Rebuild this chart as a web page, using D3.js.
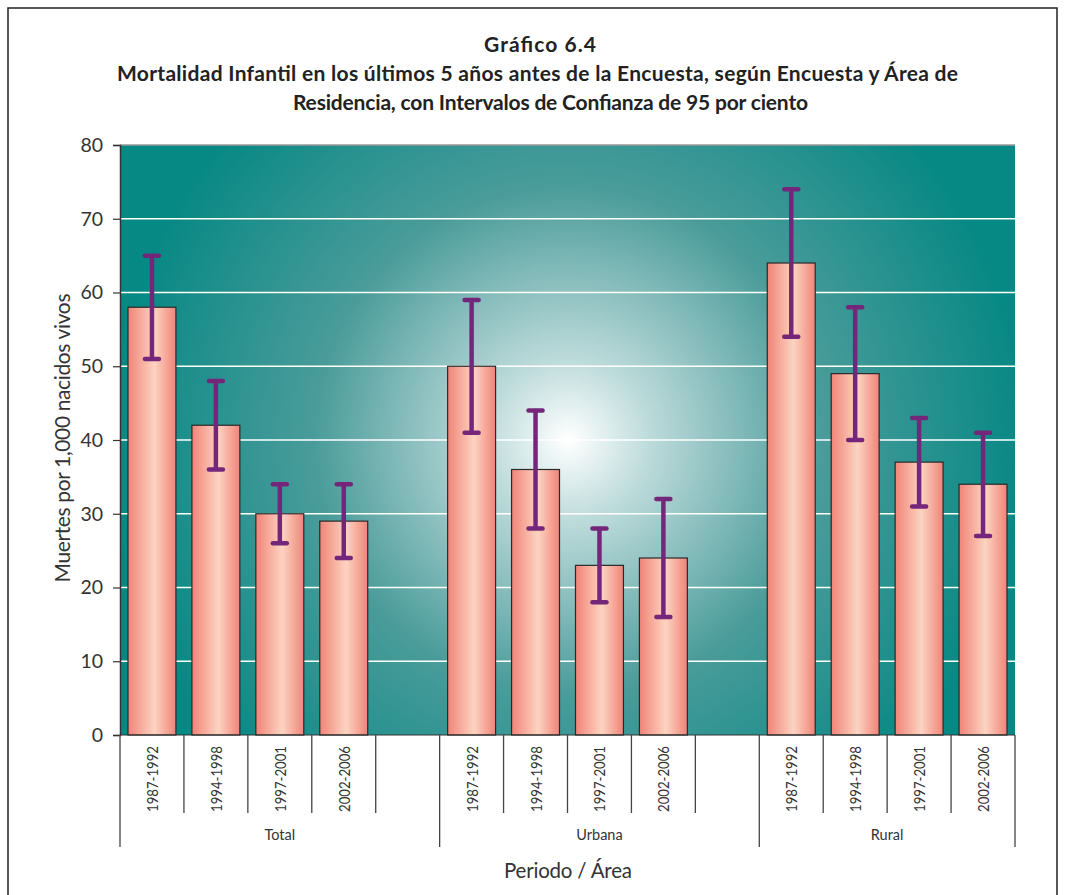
<!DOCTYPE html>
<html><head><meta charset="utf-8">
<script src="https://cdn.jsdelivr.net/npm/d3@7"></script>
<style>body{margin:0;background:#fff}svg{display:block}</style>
</head><body>
<script>
const groups = ["Total", "Urbana", "Rural"];
const periods = ["1987-1992", "1994-1998", "1997-2001", "2002-2006"];
const groupSlots = [5, 5, 4];
const valTotal = [58, 42, 30, 29];
const lowTotal = [51, 36, 26, 24];
const highTotal = [65, 48, 34, 34];
const valUrbana = [50, 36, 23, 24];
const lowUrbana = [41, 28, 18, 16];
const highUrbana = [59, 44, 28, 32];
const valRural = [64, 49, 37, 34];
const lowRural = [54, 40, 31, 27];
const highRural = [74, 58, 43, 41];
const yTicks = [0, 10, 20, 30, 40, 50, 60, 70, 80];

const vals = [valTotal, valUrbana, valRural], lows = [lowTotal, lowUrbana, lowRural], highs = [highTotal, highUrbana, highRural];
const slots = [];
const data = [];
groups.forEach((g, gi) => {
  for (let i = 0; i < groupSlots[gi]; i++) {
    const key = g + "|" + i;
    slots.push(key);
    if (i < periods.length) data.push({key, group: g, period: periods[i], v: vals[gi][i], lo: lows[gi][i], hi: highs[gi][i]});
  }
});

const W = 1065, H = 895;
const m = {l: 120, t: 145, r: 1015, b: 735};
const tf = "Lato, 'Open Sans', sans-serif";
const svg = d3.select("body").append("svg").attr("width", W).attr("height", H);
const defs = svg.append("defs");
const rg = defs.append("radialGradient").attr("id", "bg").attr("gradientUnits", "userSpaceOnUse")
  .attr("cx", 568).attr("cy", 440).attr("r", 460);
rg.append("stop").attr("offset", "0").attr("stop-color", "#ffffff");
rg.append("stop").attr("offset", "0.18").attr("stop-color", "#bcdada");
rg.append("stop").attr("offset", "0.55").attr("stop-color", "#4a9c9a");
rg.append("stop").attr("offset", "1").attr("stop-color", "#068884");
const bg = defs.append("linearGradient").attr("id", "bar").attr("x1", 0).attr("x2", 1).attr("y1", 0).attr("y2", 0);
bg.append("stop").attr("offset", "0").attr("stop-color", "#f08478");
bg.append("stop").attr("offset", "0.55").attr("stop-color", "#fdd3c1");
bg.append("stop").attr("offset", "1").attr("stop-color", "#f08478");

// frame
svg.append("path").attr("d", `M8,${H} V8 H1057 V${H}`).attr("fill", "none").attr("stroke", "#222").attr("stroke-width", 1.5);

const x = d3.scaleBand().domain(slots).range([m.l, m.r]).paddingInner(0.25).paddingOuter(0.125);
const y = d3.scaleLinear().domain([0, 80]).range([m.b, m.t]);

svg.append("rect").attr("x", m.l).attr("y", m.t).attr("width", m.r - m.l).attr("height", m.b - m.t).attr("fill", "url(#bg)");
svg.append("line").attr("x1", m.l).attr("x2", m.r).attr("y1", m.t).attr("y2", m.t).attr("stroke", "#999").attr("stroke-width", 1.5);

// gridlines
svg.append("g").selectAll("line").data(yTicks.filter(d => d > 0 && d < 80)).join("line")
  .attr("x1", m.l).attr("x2", m.r).attr("y1", d => y(d)).attr("y2", d => y(d))
  .attr("stroke", "#fff").attr("stroke-width", 1.5);

// bars
svg.append("g").selectAll("rect").data(data).join("rect")
  .attr("x", d => x(d.key)).attr("width", x.bandwidth())
  .attr("y", d => y(d.v)).attr("height", d => y(0) - y(d.v))
  .attr("fill", "url(#bar)").attr("stroke", "#2a2a2a").attr("stroke-width", 1.2);

// error bars
const eb = svg.append("g").attr("stroke", "#74277a").attr("stroke-width", 4.5).attr("stroke-linecap", "round");
data.forEach(d => {
  const cx = x(d.key) + x.bandwidth() / 2;
  eb.append("line").attr("x1", cx).attr("x2", cx).attr("y1", y(d.hi)).attr("y2", y(d.lo)).attr("stroke-linecap", "butt");
  eb.append("line").attr("x1", cx - 7).attr("x2", cx + 7).attr("y1", y(d.hi)).attr("y2", y(d.hi));
  eb.append("line").attr("x1", cx - 7).attr("x2", cx + 7).attr("y1", y(d.lo)).attr("y2", y(d.lo));
});

// y axis
const ya = svg.append("g").attr("transform", `translate(${m.l},0)`)
  .call(d3.axisLeft(y).tickValues(yTicks).tickSize(7).tickPadding(10));
ya.select(".domain").attr("stroke", "#333").attr("stroke-width", 1.5);
ya.selectAll(".tick line").attr("stroke", "#333").attr("stroke-width", 1.2);
ya.selectAll("text").attr("font-family", tf).attr("font-size", 19.5).attr("fill", "#333");

// x axis baseline
svg.append("line").attr("x1", m.l).attr("x2", m.r).attr("y1", m.b).attr("y2", m.b).attr("stroke", "#333").attr("stroke-width", 1.2);

// category separators and group labels
const step = x.step();
const xa = svg.append("g").attr("stroke", "#444").attr("stroke-width", 1.3);
let idx = 0;
groups.forEach((g, gi) => {
  const gStart = m.l + idx * step;
  for (let i = 1; i < groupSlots[gi]; i++) {
    const xx = gStart + i * step;
    xa.append("line").attr("x1", xx).attr("x2", xx).attr("y1", m.b).attr("y2", 813);
  }
  xa.append("line").attr("x1", gStart).attr("x2", gStart).attr("y1", m.b).attr("y2", 847);
  const gEnd = gStart + groupSlots[gi] * step;
  if (gi === groups.length - 1) xa.append("line").attr("x1", gEnd).attr("x2", gEnd).attr("y1", m.b).attr("y2", 847);
  svg.append("text").attr("x", (gStart + gEnd) / 2).attr("y", 840).attr("text-anchor", "middle")
    .attr("font-family", tf).attr("font-size", 14.5).attr("fill", "#333").text(g);
  idx += groupSlots[gi];
});

// category labels
svg.append("g").selectAll("text").data(data).join("text")
  .attr("transform", d => `translate(${x(d.key) + x.bandwidth() / 2 + 6},${812}) rotate(-90)`)
  .attr("text-anchor", "start")
  .attr("textLength", 66).attr("lengthAdjust", "spacingAndGlyphs")
  .attr("font-family", tf).attr("font-size", 15.5).attr("fill", "#333")
  .text(d => d.period);

// titles
const title = svg.append("g").attr("font-family", tf).attr("font-weight", "bold").attr("font-size", 21).attr("fill", "#222").attr("text-anchor", "middle");
title.append("text").attr("x", 540).attr("y", 52).attr("textLength", 112).text("Gráfico 6.4");
title.append("text").attr("x", 537.5).attr("y", 81).attr("textLength", 841).text("Mortalidad Infantil en los últimos 5 años antes de la Encuesta, según Encuesta y Área de");
title.append("text").attr("x", 550.5).attr("y", 110).attr("textLength", 515).text("Residencia, con Intervalos de Confianza de 95 por ciento");

svg.append("text").attr("x", 568).attr("y", 878).attr("text-anchor", "middle").attr("font-family", tf)
  .attr("font-size", 20.5).attr("textLength", 128).attr("fill", "#333").text("Periodo / Área");
svg.append("text").attr("transform", "translate(70,438) rotate(-90)").attr("text-anchor", "middle").attr("font-family", tf)
  .attr("font-size", 21).attr("textLength", 289).attr("fill", "#333").text("Muertes por 1,000 nacidos vivos");
</script>
</body></html>
